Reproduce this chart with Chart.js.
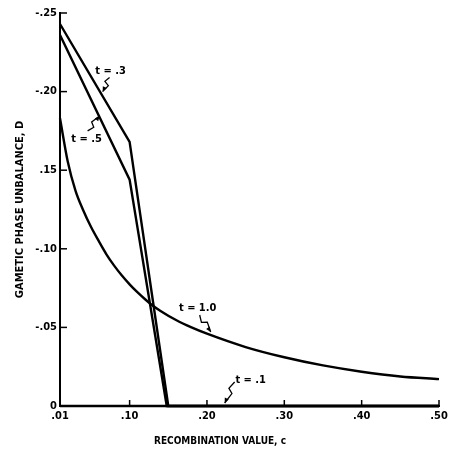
<!DOCTYPE html>
<html>
<head>
<meta charset="utf-8">
<script src="https://cdn.jsdelivr.net/npm/chart.js@4/dist/chart.umd.min.js"></script>
<style>
  html, body { margin: 0; padding: 0; background: #fff; }
  #wrap { width: 452px; height: 453px; }
</style>
</head>
<body>
<div id="wrap"><canvas id="dChart" width="452" height="453"></canvas></div>
<script>
//DATA (D SHOWN AS MAGNITUDE, AXIS LABELS CARRY THE SIGN)
const cT3 = [0.01, 0.10, 0.150, 0.50];
const dT3 = [0.243, 0.168, 0, 0];
const cT5 = [0.01, 0.10, 0.148, 0.50];
const dT5 = [0.236, 0.144, 0, 0];
const cT1 = [0.01, 0.02, 0.03, 0.04, 0.05, 0.06, 0.07, 0.08, 0.09, 0.10, 0.11, 0.12, 0.128, 0.14, 0.16, 0.18, 0.20, 0.25, 0.30, 0.35, 0.40, 0.45, 0.50];
const dT1 = [0.183, 0.1555, 0.137, 0.1245, 0.114, 0.105, 0.0965, 0.0893, 0.083, 0.0774, 0.0724, 0.0679, 0.0646, 0.0605, 0.0547, 0.050, 0.046, 0.0375, 0.031, 0.0258, 0.0218, 0.0188, 0.0171];
const cT01 = [0.01, 0.50];
const dT01 = [0, 0];

const xTicks = [0.01, 0.10, 0.20, 0.30, 0.40, 0.50];
const xTickLabels = [".01", ".10", ".20", ".30", ".40", ".50"];
const yTicks = [0, 0.05, 0.10, 0.15, 0.20, 0.25];
const yTickLabels = ["0", "-.05", "-.10", ".15", "-.20", "-.25"];

//CURVE LABELS: TEXT, LABEL POSITION, ARROW TAIL AND HEAD (DATA UNITS)
const notes = [
  { text: "t = .3", at: [0.0754, 0.213], tail: [0.0741, 0.209], head: [0.0651, 0.200] },
  { text: "t = .5", at: [0.0444, 0.170], tail: [0.0457, 0.175], head: [0.0612, 0.1845] },
  { text: "t = 1.0", at: [0.188, 0.0623], tail: [0.1906, 0.0579], head: [0.2048, 0.0471] },
  { text: "t = .1", at: [0.2565, 0.0165], tail: [0.2358, 0.0153], head: [0.2229, 0.0019] },
];

const FONT = "'DejaVu Sans Condensed', 'Liberation Sans Narrow', 'DejaVu Sans', sans-serif";

function pts(xs, ys) {
  return xs.map((x, i) => ({ x: x, y: ys[i] }));
}

function lineSet(label, xs, ys, tension) {
  return {
    label: label,
    data: pts(xs, ys),
    borderColor: "#000",
    borderWidth: 2.4,
    pointRadius: 0,
    tension: tension,
    cubicInterpolationMode: tension ? "monotone" : "default",
    fill: false,
    clip: false,
  };
}

const notesPlugin = {
  id: "notes",
  afterDatasetsDraw(chart) {
    const ctx = chart.ctx;
    const xs = chart.scales.x, ys = chart.scales.y;
    ctx.save();
    //INWARD TICK MARKS
    ctx.strokeStyle = "#000";
    ctx.lineWidth = 1.5;
    const left = chart.chartArea.left, bottom = chart.chartArea.bottom;
    yTicks.forEach((v) => {
      if (v === 0) return;
      const py = ys.getPixelForValue(v);
      ctx.beginPath();
      ctx.moveTo(left, py);
      ctx.lineTo(left + 7, py);
      ctx.stroke();
    });
    xTicks.forEach((v) => {
      if (v === xTicks[0]) return;
      const px = xs.getPixelForValue(v);
      ctx.beginPath();
      ctx.moveTo(px, bottom);
      ctx.lineTo(px, bottom - 6);
      ctx.stroke();
    });
    //X AXIS TITLE (SITS LEFT OF CENTRE IN THE ORIGINAL)
    ctx.fillStyle = "#000";
    ctx.textAlign = "center";
    ctx.textBaseline = "middle";
    ctx.font = "bold 10px " + FONT;
    ctx.fillText("RECOMBINATION VALUE, c", 220, 441);
    //LABELS WITH SQUIGGLE ARROWS
    ctx.font = "bold 11px " + FONT;
    notes.forEach((n) => {
      ctx.fillText(n.text, xs.getPixelForValue(n.at[0]), ys.getPixelForValue(n.at[1]));
      const x0 = xs.getPixelForValue(n.tail[0]), y0 = ys.getPixelForValue(n.tail[1]);
      const x1 = xs.getPixelForValue(n.head[0]), y1 = ys.getPixelForValue(n.head[1]);
      const dx = x1 - x0, dy = y1 - y0;
      const len = Math.hypot(dx, dy);
      const ux = dx / len, uy = dy / len, nx = -uy, ny = ux;
      ctx.lineWidth = 1.3;
      ctx.beginPath();
      ctx.moveTo(x0, y0);
      ctx.lineTo(x0 + dx * 0.35 + nx * 2.5, y0 + dy * 0.35 + ny * 2.5);
      ctx.lineTo(x0 + dx * 0.5 - nx * 2.5, y0 + dy * 0.5 - ny * 2.5);
      ctx.lineTo(x1, y1);
      ctx.stroke();
      ctx.beginPath();
      ctx.moveTo(x1, y1);
      ctx.lineTo(x1 - ux * 5 + nx * 2.2, y1 - uy * 5 + ny * 2.2);
      ctx.lineTo(x1 - ux * 5 - nx * 2.2, y1 - uy * 5 - ny * 2.2);
      ctx.closePath();
      ctx.fill();
    });
    ctx.restore();
  },
};

const config = {
  type: "line",
  data: {
    datasets: [
      lineSet("t = .3", cT3, dT3, 0),
      lineSet("t = .5", cT5, dT5, 0),
      lineSet("t = 1.0", cT1, dT1, 0.4),
      lineSet("t = .1", cT01, dT01, 0),
    ],
  },
  options: {
    responsive: false,
    animation: false,
    layout: { padding: { top: 13, right: 13, left: 0, bottom: 0 } },
    plugins: { legend: { display: false }, tooltip: { enabled: false } },
    scales: {
      x: {
        type: "linear",
        min: 0.01,
        max: 0.5,
        afterBuildTicks(scale) {
          scale.ticks = xTicks.map((v) => ({ value: v }));
        },
        afterFit(scale) {
          scale.height = 47;
        },
        ticks: {
          autoSkip: false,
          maxRotation: 0,
          padding: 4,
          color: "#000",
          font: { family: FONT, size: 11, weight: "bold" },
          callback: (v) => xTickLabels[xTicks.indexOf(v)],
        },
        grid: { display: false, drawTicks: false },
        border: { display: true, color: "#000", width: 2 },
        title: { display: false },
      },
      y: {
        type: "linear",
        min: 0,
        max: 0.25,
        afterBuildTicks(scale) {
          scale.ticks = yTicks.map((v) => ({ value: v }));
        },
        afterFit(scale) {
          scale.width = 60;
        },
        ticks: {
          autoSkip: false,
          padding: 3,
          color: "#000",
          font: { family: FONT, size: 11, weight: "bold" },
          callback: (v) => yTickLabels[yTicks.indexOf(v)],
        },
        grid: { display: false, drawTicks: false },
        border: { display: true, color: "#000", width: 2 },
        title: {
          display: true,
          text: "GAMETIC PHASE UNBALANCE, D",
          color: "#000",
          font: { family: FONT, size: 11, weight: "bold" },
          padding: { top: 14, bottom: 0 },
        },
      },
    },
  },
  plugins: [notesPlugin],
};

const chart = new Chart(document.getElementById("dChart"), config);
</script>
</body>
</html>
